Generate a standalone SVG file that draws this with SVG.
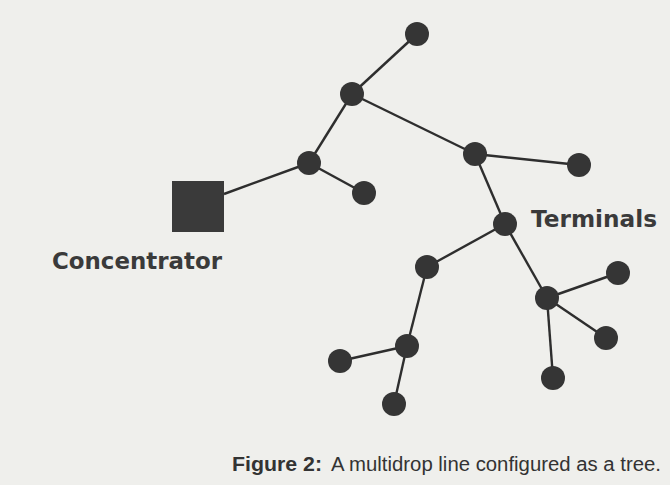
<svg xmlns="http://www.w3.org/2000/svg" width="670" height="485" viewBox="0 0 670 485">
<style>
.edge{stroke:#2e2e2e;stroke-width:2.4;fill:none}
.node{fill:#353535}
.lbl{font-family:"DejaVu Sans","Liberation Sans",sans-serif;fill:#3a3a3a;font-weight:bold}
.cap{font-family:"Liberation Sans","DejaVu Sans",sans-serif;fill:#333;font-size:20px}
</style>
<rect width="670" height="485" fill="#efefec"/>
<g id="connectors">
<line class="edge" x1="224" y1="194" x2="309" y2="163"/>
<line class="edge" x1="309" y1="163" x2="352" y2="94"/>
<line class="edge" x1="352" y1="94" x2="417" y2="34"/>
<line class="edge" x1="309" y1="163" x2="364" y2="193"/>
<line class="edge" x1="352" y1="94" x2="475" y2="154"/>
<line class="edge" x1="475" y1="154" x2="579" y2="165"/>
<line class="edge" x1="475" y1="154" x2="505" y2="224"/>
<line class="edge" x1="505" y1="224" x2="427" y2="267"/>
<line class="edge" x1="427" y1="267" x2="407" y2="346"/>
<line class="edge" x1="407" y1="346" x2="340" y2="361"/>
<line class="edge" x1="407" y1="346" x2="394" y2="404"/>
<line class="edge" x1="505" y1="224" x2="547" y2="298"/>
<line class="edge" x1="547" y1="298" x2="618" y2="273"/>
<line class="edge" x1="547" y1="298" x2="606" y2="338"/>
<line class="edge" x1="547" y1="298" x2="553" y2="378"/>
</g>
<g id="concentrator"><rect x="172" y="181" width="52" height="51" fill="#3a3a3a"/></g>
<g id="nB"><circle class="node" cx="309" cy="163" r="12"/></g>
<g id="nA"><circle class="node" cx="352" cy="94" r="12"/></g>
<g id="nTop"><circle class="node" cx="417" cy="34" r="12"/></g>
<g id="nC"><circle class="node" cx="364" cy="193" r="12"/></g>
<g id="nD"><circle class="node" cx="475" cy="154" r="12"/></g>
<g id="nE"><circle class="node" cx="579" cy="165" r="12"/></g>
<g id="nF"><circle class="node" cx="505" cy="224" r="12"/></g>
<g id="nG"><circle class="node" cx="427" cy="267" r="12"/></g>
<g id="nH"><circle class="node" cx="407" cy="346" r="12"/></g>
<g id="nI"><circle class="node" cx="340" cy="361" r="12"/></g>
<g id="nJ"><circle class="node" cx="394" cy="404" r="12"/></g>
<g id="nK"><circle class="node" cx="547" cy="298" r="12"/></g>
<g id="nL"><circle class="node" cx="618" cy="273" r="12"/></g>
<g id="nM"><circle class="node" cx="606" cy="338" r="12"/></g>
<g id="nN"><circle class="node" cx="553" cy="378" r="12"/></g>
<text class="lbl" x="52" y="269" font-size="23" textLength="170" lengthAdjust="spacingAndGlyphs">Concentrator</text>
<text class="lbl" x="531" y="227" font-size="23" textLength="126" lengthAdjust="spacingAndGlyphs">Terminals</text>
<text class="cap" x="232" y="471" font-weight="bold" textLength="90" lengthAdjust="spacingAndGlyphs">Figure 2:</text>
<text class="cap" x="331" y="471" textLength="330" lengthAdjust="spacingAndGlyphs">A multidrop line configured as a tree.</text>
</svg>
